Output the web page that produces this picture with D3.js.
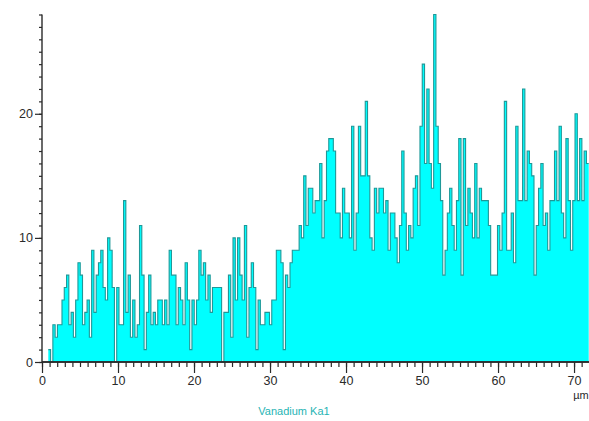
<!DOCTYPE html>
<html>
<head>
<meta charset="utf-8">
<script src="https://cdn.jsdelivr.net/npm/d3@7"></script>
<style>
  html, body { margin: 0; padding: 0; background: #ffffff; }
  svg { display: block; }
  text { font-family: "Liberation Sans", Arial, sans-serif; }
</style>
</head>
<body>
<svg id="chart" width="589" height="421"></svg>
<script>
// Line-scan counts, Vanadium Ka1, in 4 consecutive pieces
const countsA = [1,0,3,2,3,3,5,6,7,3,4,2,5,8,7,3,4,5,2,9,4,7,8,9,6,5,10,9,6,0,6,3,3,13,4,7,2,5,2,3,11,7,1,4,7,3,4,3,5,5,3,5,3,9,7,7,3];
const countsB = [6,5,3,8,5,1,5,3,5,9,7,8,5,7,4,6,6,6,6,0,4,4,7,2,10,5,10,7,5,11,2,6,8,6,1,5,3,3,4,4,3,5,5,9,9,8,1,7,6,8,9,9,9,11,10,15,11];
const countsC = [14,14,12,13,13,16,10,13,17,18,18,17,12,12,10,14,12,12,10,19,9,12,19,15,15,21,15,10,9,14,12,14,14,12,13,9,12,12,10,8,11,17,12,9,11,10,14,15,11,19,24,16,22,16,14,28,19,16,13];
const countsD = [7,9,12,14,11,9,13,18,7,18,11,14,12,10,16,10,14,13,13,13,11,7,7,7,11,9,12,21,9,9,12,8,19,13,13,22,13,17,16,15,7,11,14,16,11,12,9,13,13,17,13,19,12,10,18,13,9,13,20,13,18,13,17,16];
const scanStart = 0.83;   // µm
const scanStep = 0.3;     // µm per point
const xMajorTicks = [0,10,20,30,40,50,60,70];
const yMajorTicks = [0,10,20];
const xUnit = "µm";
const seriesName = "Vanadium Ka1";

const counts = countsA.concat(countsB, countsC, countsD);
const pts = counts.map((v, i) => ({x: scanStart + i * scanStep, v}));
pts.push({x: scanStart + counts.length * scanStep, v: counts[counts.length - 1]});

const svg = d3.select("#chart");
const x = d3.scaleLinear().domain([0, 72.1]).range([42, 590]);
const y = d3.scaleLinear().domain([0, 28]).range([362, 14.5]);

const area = d3.area().x(d => x(d.x)).y0(y(0)).y1(d => y(d.v)).curve(d3.curveStepAfter);
const line = d3.line().x(d => x(d.x)).y(d => y(d.v)).curve(d3.curveStepAfter);

svg.append("path").datum(pts).attr("d", area).attr("fill", "#00ffff");
svg.append("path").datum(pts).attr("d", line).attr("fill", "none")
  .attr("stroke", "#1f9898").attr("stroke-width", 1.1);

// Y axis: minor + major
const yMinor = d3.axisLeft(y).tickValues(d3.range(0, 29)).tickSize(3).tickFormat("");
const gyMin = svg.append("g").attr("transform", `translate(${x(0)},0)`).call(yMinor);
const yMajor = d3.axisLeft(y).tickValues(yMajorTicks).tickSize(7).tickPadding(2);
const gyMaj = svg.append("g").attr("transform", `translate(${x(0)},0)`).call(yMajor);

// X axis: minor + major
const xMinor = d3.axisBottom(x).tickValues(d3.range(0, 73)).tickSize(5).tickFormat("");
const gxMin = svg.append("g").attr("transform", `translate(0,${y(0)})`).call(xMinor);
const xMajor = d3.axisBottom(x).tickValues(xMajorTicks).tickSize(11).tickPadding(3);
const gxMaj = svg.append("g").attr("transform", `translate(0,${y(0)})`).call(xMajor);

[gyMin, gyMaj, gxMin, gxMaj].forEach(g => {
  g.selectAll("path.domain").attr("stroke", "#2a2a2a").attr("stroke-width", 1.4);
  g.selectAll(".tick line").attr("stroke", "#2a2a2a").attr("stroke-width", 1.2);
  g.selectAll(".tick text").attr("fill", "#2a2a2a").attr("font-size", 12.5)
    .attr("font-family", "Liberation Sans, Arial, sans-serif");
});
gxMin.select("path.domain").attr("d", `M${x(0)},0H589`);
gxMaj.select("path.domain").attr("d", `M${x(0)},0H589`);
gyMin.select("path.domain").attr("d", `M0,${y(0)}V${y(28)}`);
gyMaj.select("path.domain").remove();

svg.append("text").attr("x", 581).attr("y", 399).attr("text-anchor", "middle")
  .attr("font-size", 11).attr("fill", "#2a2a2a").text(xUnit);
svg.append("text").attr("x", 294).attr("y", 415).attr("text-anchor", "middle")
  .attr("font-size", 11).attr("fill", "#1fb4b4").text(seriesName);
</script>
</body>
</html>
